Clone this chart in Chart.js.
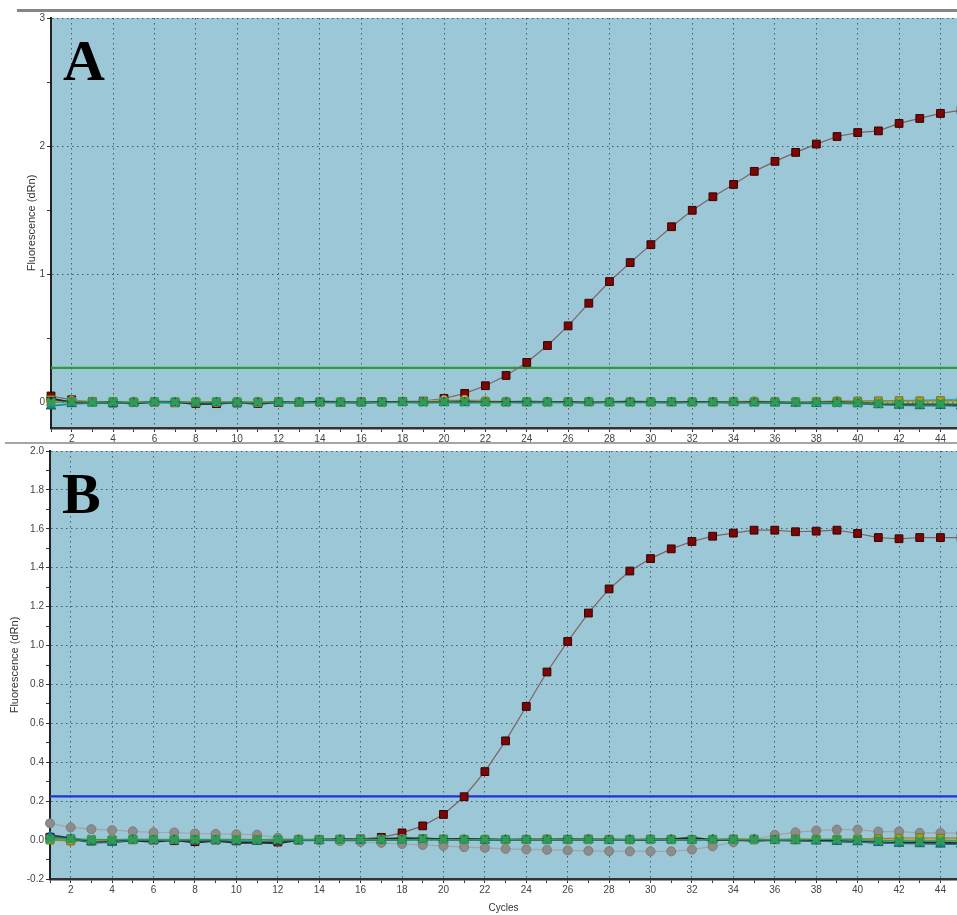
<!DOCTYPE html>
<html>
<head>
<meta charset="utf-8">
<script src="https://cdn.jsdelivr.net/npm/chart.js@4.4.1/dist/chart.umd.min.js"></script>
<style>
  body { margin: 0; background: #fff; width: 957px; height: 915px; overflow: hidden; position: relative; }
  canvas { position: absolute; left: 0; }
  #chartA { top: 0; }
  #chartB { top: 443px; }
  .rule { position: absolute; }
</style>
</head>
<body>
<div class="rule" style="left:17px;top:9px;width:940px;height:3px;background:#858585"></div>
<canvas id="chartA" width="957" height="447"></canvas>
<canvas id="chartB" width="957" height="472"></canvas>
<div class="rule" style="left:5px;top:442px;width:952px;height:2px;background:#a5a5a5"></div>
<script>
// cycles and tick labels
const cycles = [1,2,3,4,5,6,7,8,9,10,11,12,13,14,15,16,17,18,19,20,21,22,23,24,25,26,27,28,29,30,31,32,33,34,35,36,37,38,39,40,41,42,43,44,45];
const xTickLabels = [2,4,6,8,10,12,14,16,18,20,22,24,26,28,30,32,34,36,38,40,42,44];
const yTickValuesA = [0, 0.5, 1, 1.5, 2, 2.5, 3];
const yTickLabelsA = [0, 1, 2, 3];
const yTickValuesB = [-0.2,-0.1,0,0.1,0.2,0.3,0.4,0.5,0.6,0.7,0.8,0.9,1.0,1.1,1.2,1.3,1.4,1.5,1.6,1.7,1.8,1.9,2.0];
const yTickLabelsB = ['-0.2','0.0','0.2','0.4','0.6','0.8','1.0','1.2','1.4','1.6','1.8','2.0'];

// thresholds
const thresholdA = 0.27;
const thresholdB = 0.225;

// panel A series (dRn per cycle)
const redA = [0.05,0.02,0.005,-0.005,0.0,0.002,-0.003,-0.008,-0.01,-0.005,-0.008,-0.002,0.0,0.002,0.0,0.003,0.004,0.006,0.01,0.03,
  0.07,0.13,0.21,0.312,0.444,0.597,0.774,0.943,1.091,1.231,1.371,1.499,1.605,1.701,1.803,1.881,1.951,2.016,2.075,2.106,2.119,2.177,2.216,2.255,2.28];
const tealA = [-0.03,-0.012,-0.006,-0.01,-0.004,0.0,-0.003,-0.005,-0.002,-0.006,-0.004,-0.002,-0.003,-0.001,-0.004,-0.002,-0.003,-0.001,-0.002,-0.003,-0.004,-0.002,-0.003,-0.004,-0.002,-0.003,-0.001,-0.002,-0.003,-0.002,-0.004,-0.002,-0.003,-0.002,-0.004,-0.006,-0.008,-0.01,-0.008,-0.012,-0.02,-0.024,-0.028,-0.026,-0.03];
const greenA = [0.0,0.005,0.002,0.003,0.0,0.004,0.002,0.001,0.003,0.002,0.0,0.003,0.002,0.001,0.003,0.002,0.001,0.003,0.002,0.004,0.003,0.002,0.001,0.003,0.002,0.001,0.003,0.002,0.001,0.002,0.003,0.001,0.002,0.003,0.001,0.002,0.003,0.0,-0.002,-0.004,-0.008,-0.01,-0.012,-0.01,-0.012];
const oliveA = [0.02,0.008,0.004,0.006,0.003,0.005,0.004,0.002,0.005,0.003,0.004,0.006,0.003,0.004,0.002,0.005,0.003,0.006,0.004,0.005,0.006,0.004,0.003,0.005,0.004,0.006,0.005,0.003,0.004,0.005,0.006,0.004,0.005,0.006,0.004,0.005,0.004,0.006,0.008,0.01,0.012,0.014,0.012,0.015,0.014];
const orangeA = [0.01,0.012,0.008,0.004,0.006,0.004,0.003,0.005,0.002,0.004,0.003,0.005,0.002,0.004,0.003,0.006,0.004,0.008,0.01,0.018,0.02,0.015,0.006,0.004,0.005,0.003,0.006,0.004,0.005,0.003,0.004,0.005,0.003,0.008,0.01,0.006,0.004,0.005,0.012,0.008,0.004,0.006,0.008,0.006,0.008];
const darkA = [0.03,0.0,-0.005,0.0,-0.008,0.004,0.002,-0.012,-0.01,0.0,-0.012,0.002,0.0,0.004,0.002,0.0,0.003,0.002,0.001,0.004,0.006,0.003,0.002,0.004,0.003,0.002,0.0,0.002,0.004,0.002,0.001,0.003,0.002,0.0,0.003,0.001,-0.006,-0.002,0.0,-0.004,-0.01,-0.012,-0.015,-0.018,-0.02];
const cyanA = [-0.025,-0.01,-0.008,-0.006,-0.005,-0.004,-0.004,-0.003,-0.003,-0.003,-0.002,-0.002,-0.002,-0.002,-0.001,-0.002,-0.001,-0.001,-0.002,-0.001,-0.001,-0.001,0.0,-0.001,0.0,0.0,0.0,0.001,0.0,0.0,0.001,0.0,0.001,0.001,0.002,0.003,0.004,0.004,0.006,0.008,0.01,0.012,0.016,0.02,0.024];

// panel B series
const redB = [0.015,0.005,0.0,-0.005,0.002,0.0,-0.003,-0.008,0.0,-0.004,-0.002,-0.01,0.0,0.002,0.004,0.006,0.014,
  0.037,0.073,0.132,0.223,0.352,0.51,0.687,0.864,1.021,1.167,1.291,1.383,1.447,1.497,1.535,1.562,1.578,1.593,1.593,1.585,1.588,1.593,1.576,1.555,1.549,1.555,1.555,1.555];
const grayB = [0.086,0.065,0.056,0.051,0.045,0.039,0.039,0.034,0.032,0.03,0.028,0.012,0.003,-0.002,-0.005,-0.009,-0.014,-0.02,-0.025,-0.03,-0.036,-0.04,-0.045,-0.048,-0.05,-0.053,-0.055,-0.057,-0.058,-0.058,-0.058,-0.049,-0.032,-0.011,0.003,0.027,0.04,0.049,0.054,0.054,0.044,0.044,0.037,0.037,0.036];
const tealB = [0.02,0.005,-0.01,-0.012,0.0,-0.002,0.0,-0.004,-0.002,-0.006,-0.008,-0.004,-0.002,-0.003,0.0,-0.002,-0.001,0.0,0.002,0.001,0.0,-0.002,0.001,0.0,-0.001,0.0,0.001,-0.002,0.0,0.001,0.0,-0.001,0.002,0.0,0.001,-0.002,-0.004,-0.006,-0.008,-0.01,-0.014,-0.018,-0.02,-0.022,-0.022];
const greenB = [0.005,0.008,0.004,0.002,0.005,0.004,0.002,0.003,0.004,0.002,0.003,0.004,0.002,0.003,0.002,0.004,0.003,0.002,0.004,0.003,0.002,0.004,0.003,0.002,0.003,0.004,0.002,0.003,0.002,0.004,0.003,0.002,0.003,0.004,0.002,0.003,0.002,0.003,0.004,0.002,-0.002,-0.004,-0.006,-0.004,-0.006];
const oliveB = [0.0,-0.004,-0.006,0.0,0.002,0.003,0.002,0.004,0.003,0.002,0.004,-0.002,0.002,0.003,0.004,0.003,0.002,0.004,0.008,0.006,0.004,0.002,0.003,0.004,0.005,0.004,0.006,0.003,0.004,0.005,0.004,0.003,0.004,0.006,0.005,0.004,0.006,0.005,0.004,0.006,0.008,0.01,0.012,0.01,0.012];
const orangeB = [0.01,-0.005,-0.004,0.0,0.003,0.002,0.004,0.003,0.002,0.004,0.003,-0.002,0.004,0.003,0.002,0.004,0.003,0.006,0.004,0.002,0.003,0.004,0.002,0.003,0.004,0.002,0.003,0.004,0.002,0.003,0.004,0.002,0.003,0.004,0.002,0.003,0.002,0.003,0.004,0.002,0.003,0.004,0.002,0.003,0.002];
const darkB = [0.025,0.01,-0.012,-0.01,-0.002,-0.008,0.0,-0.012,-0.004,-0.014,-0.012,-0.016,0.0,0.002,0.004,0.003,0.006,0.01,0.008,0.004,0.006,0.004,0.002,0.003,0.002,0.004,0.002,0.003,0.001,0.002,0.004,0.012,0.0,0.002,-0.004,0.0,-0.002,-0.004,-0.006,-0.008,-0.012,-0.014,-0.012,-0.014,-0.016];
const cyanB = [0.01,0.0,-0.002,-0.004,-0.002,-0.003,-0.002,-0.002,-0.001,-0.002,-0.001,-0.001,0.0,0.0,0.001,0.0,0.0,0.0,0.001,0.0,0.001,0.0,0.001,0.0,0.0,0.001,0.0,0.0,0.001,0.0,0.0,0.001,0.0,0.0,0.0,0.001,0.0,0.0,0.0,0.0,-0.001,0.0,-0.002,-0.002,-0.002];

const plotBg = '#9cc7d7';
const gridColor = '#3e6171';
const tickFont = { family: 'Arial, "Liberation Sans"', size: 10 };

// plot background + big panel letter
const panelPlugin = {
  id: 'panel',
  beforeDraw(chart) {
    const { ctx, chartArea: a } = chart;
    ctx.save();
    ctx.fillStyle = plotBg;
    ctx.fillRect(a.left, a.top, a.right - a.left, a.bottom - a.top);
    ctx.restore();
  },
  afterDraw(chart, args, opts) {
    const { ctx, chartArea: a } = chart;
    ctx.save();
    ctx.font = 'bold 58px "Liberation Serif", "Times New Roman", serif';
    ctx.fillStyle = '#000';
    ctx.textBaseline = 'alphabetic';
    ctx.fillText(opts.letter, a.left + 12, a.top + 62);
    ctx.restore();
  }
};
Chart.register(panelPlugin);

function series(values, style) {
  return Object.assign({ data: values, borderWidth: 1.2, pointBorderWidth: 1, clip: false }, style);
}

const redStyle = { borderColor: '#7b6464', backgroundColor: '#7a0606', pointBorderColor: '#3a0000', pointStyle: 'rect', pointRadius: 5.5 };
const tealStyle = { borderColor: '#1f7a80', backgroundColor: '#1e7f86', pointBorderColor: '#155f66', pointStyle: 'triangle', pointRadius: 5.5 };
const greenStyle = { borderColor: '#2f9a55', backgroundColor: '#2f9a55', pointBorderColor: '#2e9c58', pointStyle: 'crossRot', pointRadius: 5.5, pointBorderWidth: 3.5 };
const oliveStyle = { borderColor: '#8a8a30', backgroundColor: '#a09e24', pointBorderColor: '#7a7815', pointStyle: 'rect', pointRadius: 5.5 };
const orangeStyle = { borderColor: '#c8a050', backgroundColor: '#d5a34b', pointBorderColor: '#c08a30', pointStyle: 'circle', pointRadius: 4.5 };
const darkStyle = { borderColor: '#2e2626', backgroundColor: '#2e2626', pointBorderColor: '#2e2626', pointStyle: 'line', pointRadius: 4.5, borderWidth: 2, pointBorderWidth: 3 };
const cyanStyle = { borderColor: '#2ab0c8', backgroundColor: '#2ab0c8', pointRadius: 0, borderWidth: 1.5 };
const grayStyle = { borderColor: '#a4a4a4', backgroundColor: '#8c8c8c', pointBorderColor: '#7c7c7c', pointStyle: 'circle', pointRadius: 4.5 };

function panelChart(id, cfg) {
  return new Chart(document.getElementById(id), {
    type: 'line',
    data: { labels: cycles, datasets: cfg.datasets },
    options: {
      responsive: false,
      animation: false,
      events: [],
      layout: { autoPadding: false, padding: { left: cfg.padLeft, top: cfg.padTop, right: 0, bottom: 0 } },
      elements: { line: { tension: 0 } },
      plugins: { legend: { display: false }, tooltip: { enabled: false }, panel: { letter: cfg.letter } },
      scales: {
        x: {
          type: 'linear', min: 1, max: 44.8,
          afterBuildTicks: s => { s.ticks = cycles.filter(c => c <= 44.8).map(v => ({ value: v })); },
          afterFit: s => { s.height = cfg.xHeight; },
          ticks: { autoSkip: false, maxRotation: 0, padding: 1, color: '#444', font: tickFont,
            callback: v => xTickLabels.includes(v) ? String(v) : '' },
          grid: { color: c => c.tick && xTickLabels.includes(c.tick.value) ? gridColor : 'rgba(0,0,0,0)',
            tickColor: '#333', tickLength: 4, lineWidth: 1 },
          border: { color: '#333', width: 2.5, dash: [1.5, 3.5] },
          title: cfg.xTitle
        },
        y: {
          min: cfg.yMin, max: cfg.yMax,
          afterBuildTicks: s => { s.ticks = cfg.yTicks.map(v => ({ value: v })); },
          afterFit: s => { s.width = cfg.yWidth; },
          ticks: { autoSkip: false, padding: 2, color: '#444', font: tickFont, callback: cfg.yLabel },
          grid: { color: c => c.tick && cfg.yLabel(c.tick.value) !== '' && c.tick.value > cfg.yMin ? gridColor : 'rgba(0,0,0,0)',
            tickColor: '#333', tickLength: 4, lineWidth: 1 },
          border: { color: '#222', width: 2, dash: [1.5, 3.5] },
          title: { display: true, text: 'Fluorescence (dRn)', color: '#333',
            font: { family: 'Arial, "Liberation Sans"', size: 11 }, padding: { top: 4, bottom: 0 } }
        }
      }
    }
  });
}

panelChart('chartA', {
  letter: 'A', padLeft: 21, padTop: 18, xHeight: 19, yWidth: 30,
  yMin: -0.2, yMax: 3, yTicks: yTickValuesA,
  yLabel: v => { const r = Math.round(v * 10) / 10; return yTickLabelsA.includes(r) ? String(r) : ''; },
  xTitle: { display: false },
  datasets: [
    series(greenA, greenStyle),
    series(tealA, tealStyle),
    series(darkA, darkStyle),
    series(oliveA, oliveStyle),
    series(orangeA, orangeStyle),
    series(cyanA, cyanStyle),
    series(redA, redStyle),
    series(cycles.map(() => thresholdA), { borderColor: '#2d9a3c', borderWidth: 2.2, pointRadius: 0 })
  ]
});

panelChart('chartB', {
  letter: 'B', padLeft: 4, padTop: 8, xHeight: 36, yWidth: 46,
  yMin: -0.2, yMax: 2.0, yTicks: yTickValuesB,
  yLabel: v => { const t = (Math.round(v * 10) / 10).toFixed(1); return yTickLabelsB.includes(t) ? t : ''; },
  xTitle: { display: true, text: 'Cycles', color: '#333', font: { family: 'Arial, "Liberation Sans"', size: 10 }, padding: { top: 0, bottom: 1 } },
  datasets: [
    series(greenB, greenStyle),
    series(tealB, tealStyle),
    series(darkB, darkStyle),
    series(oliveB, oliveStyle),
    series(orangeB, orangeStyle),
    series(grayB, grayStyle),
    series(cyanB, cyanStyle),
    series(redB, redStyle),
    series(cycles.map(() => thresholdB), { borderColor: '#2233d6', borderWidth: 2.2, pointRadius: 0 })
  ]
});
</script>
</body>
</html>
